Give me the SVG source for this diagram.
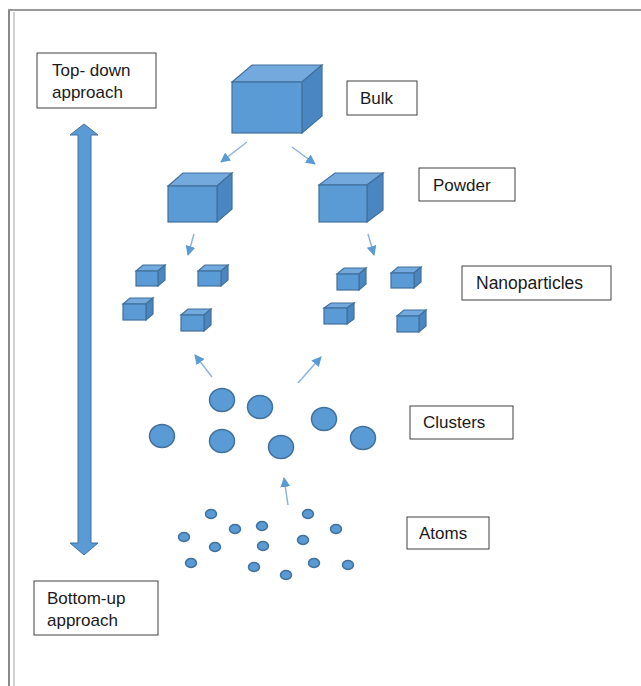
<svg xmlns="http://www.w3.org/2000/svg" width="641" height="686" viewBox="0 0 641 686">
<style>
.lbl{fill:#fff;stroke:#404040;stroke-width:1}
.t{font-family:"Liberation Sans",Arial,sans-serif;font-size:17px;fill:#1a1a1a}
.front{fill:#5b9bd5;stroke:#41719c;stroke-width:1.2}
.top{fill:#73a9dc;stroke:#41719c;stroke-width:1.2}
.side{fill:#4a87c2;stroke:#41719c;stroke-width:1.2}
.ball{fill:#5b9bd5;stroke:#41719c;stroke-width:1.5}
.ar{stroke:#8db3dd;stroke-width:1.5;fill:none;marker-end:url(#ah)}
</style>
<defs>
<marker id="ah" viewBox="0 0 10 10" refX="9" refY="5" markerWidth="10" markerHeight="10" markerUnits="userSpaceOnUse" orient="auto">
<path d="M0,0 L10,5 L0,10 z" fill="#5b9bd5"/>
</marker>
</defs>
<rect width="641" height="686" fill="#fff"/>
<g id="frame">
<line x1="8" y1="10" x2="641" y2="10" stroke="#9a9a9a" stroke-width="2"/>
<line x1="9" y1="10" x2="9" y2="686" stroke="#8a8a8a" stroke-width="2"/>
<line x1="14" y1="12" x2="14" y2="686" stroke="#d0d0d0" stroke-width="2"/>
</g>
<g id="double-arrow">
<polygon points="84,124 98,135 91,135 91,543 98,543 84,555 70,543 78,543 78,135 70,135" fill="#5b9bd5" stroke="#41719c" stroke-width="1"/>
</g>
<g id="top-down">
<rect class="lbl" x="37" y="53" width="119" height="55"/>
<text class="t" x="52" y="76">Top- down</text>
<text class="t" x="52" y="98">approach</text>
</g>
<g id="bottom-up">
<rect class="lbl" x="34" y="581" width="124" height="54"/>
<text class="t" x="47" y="604">Bottom-up</text>
<text class="t" x="47" y="626">approach</text>
</g>
<g id="bulk-label"><rect class="lbl" x="347" y="81" width="70" height="34"/><text class="t" x="360" y="104">Bulk</text></g>
<g id="powder-label"><rect class="lbl" x="419" y="168" width="96" height="33"/><text class="t" x="433" y="191">Powder</text></g>
<g id="nano-label"><rect class="lbl" x="462" y="266" width="149" height="34"/><text class="t" x="476" y="289" style="font-size:17.5px">Nanoparticles</text></g>
<g id="clusters-label"><rect class="lbl" x="410" y="406" width="103" height="33"/><text class="t" x="423" y="428">Clusters</text></g>
<g id="atoms-label"><rect class="lbl" x="407" y="517" width="82" height="32"/><text class="t" x="419" y="539">Atoms</text></g>
<g id="bulk">
<polygon class="top" points="232,82 252,65 322,65 302,82"/>
<polygon class="side" points="302,82 322,65 322,116 302,133"/>
<rect class="front" x="232" y="82" width="70" height="51"/>
</g>
<g id="powder">
<polygon class="top" points="168,186 183,173 232,173 217,186"/>
<polygon class="side" points="217,186 232,173 232,209 217,222"/>
<rect class="front" x="168" y="186" width="49" height="36"/>
<polygon class="top" points="319,185 335,173 383,173 367,185"/>
<polygon class="side" points="367,185 383,173 383,210 367,222"/>
<rect class="front" x="319" y="185" width="48" height="37"/>
</g>
<g id="nanoparticles">
<polygon class="top" points="136,271 143,265 165,265 158,271"/><polygon class="side" points="158,271 165,265 165,280 158,286"/><rect class="front" x="136" y="271" width="22" height="15"/>
<polygon class="top" points="198,271 205,265 228,265 221,271"/><polygon class="side" points="221,271 228,265 228,280 221,286"/><rect class="front" x="198" y="271" width="23" height="15"/>
<polygon class="top" points="123,304 130,298 153,298 146,304"/><polygon class="side" points="146,304 153,298 153,314 146,320"/><rect class="front" x="123" y="304" width="23" height="16"/>
<polygon class="top" points="181,315 188,309 211,309 204,315"/><polygon class="side" points="204,315 211,309 211,325 204,331"/><rect class="front" x="181" y="315" width="23" height="16"/>
<polygon class="top" points="337,274 344,268 366,268 359,274"/><polygon class="side" points="359,274 366,268 366,284 359,290"/><rect class="front" x="337" y="274" width="22" height="16"/>
<polygon class="top" points="391,273 398,267 421,267 414,273"/><polygon class="side" points="414,273 421,267 421,282 414,288"/><rect class="front" x="391" y="273" width="23" height="15"/>
<polygon class="top" points="324,308 331,303 354,303 347,308"/><polygon class="side" points="347,308 354,303 354,319 347,324"/><rect class="front" x="324" y="308" width="23" height="16"/>
<polygon class="top" points="397,316 404,310 426,310 419,316"/><polygon class="side" points="419,316 426,310 426,326 419,332"/><rect class="front" x="397" y="316" width="22" height="16"/>
</g>
<g id="clusters">
<ellipse class="ball" cx="162" cy="436" rx="12.5" ry="11.5"/>
<ellipse class="ball" cx="222" cy="400" rx="12.5" ry="11.5"/>
<ellipse class="ball" cx="260" cy="407" rx="12.5" ry="11.5"/>
<ellipse class="ball" cx="222" cy="441" rx="12.5" ry="11.5"/>
<ellipse class="ball" cx="281" cy="447" rx="12.5" ry="11.5"/>
<ellipse class="ball" cx="324" cy="419" rx="12.5" ry="11.5"/>
<ellipse class="ball" cx="363" cy="438" rx="12.5" ry="11.5"/>
</g>
<g id="atoms">
<ellipse class="ball" cx="211" cy="514" rx="5.5" ry="4.5"/>
<ellipse class="ball" cx="235" cy="529" rx="5.5" ry="4.5"/>
<ellipse class="ball" cx="262" cy="526" rx="5.5" ry="4.5"/>
<ellipse class="ball" cx="308" cy="514" rx="5.5" ry="4.5"/>
<ellipse class="ball" cx="336" cy="529" rx="5.5" ry="4.5"/>
<ellipse class="ball" cx="184" cy="537" rx="5.5" ry="4.5"/>
<ellipse class="ball" cx="215" cy="547" rx="5.5" ry="4.5"/>
<ellipse class="ball" cx="263" cy="546" rx="5.5" ry="4.5"/>
<ellipse class="ball" cx="303" cy="540" rx="5.5" ry="4.5"/>
<ellipse class="ball" cx="191" cy="563" rx="5.5" ry="4.5"/>
<ellipse class="ball" cx="254" cy="567" rx="5.5" ry="4.5"/>
<ellipse class="ball" cx="286" cy="575" rx="5.5" ry="4.5"/>
<ellipse class="ball" cx="314" cy="563" rx="5.5" ry="4.5"/>
<ellipse class="ball" cx="348" cy="565" rx="5.5" ry="4.5"/>
</g>
<g id="connectors">
<line class="ar" x1="247" y1="142" x2="221" y2="162"/>
<line class="ar" x1="292" y1="147" x2="315" y2="164"/>
<line class="ar" x1="194" y1="234" x2="188" y2="255"/>
<line class="ar" x1="368" y1="234" x2="374" y2="255"/>
<line class="ar" x1="212" y1="377" x2="195" y2="355"/>
<line class="ar" x1="298" y1="383" x2="321" y2="357"/>
<line class="ar" x1="288" y1="505" x2="284" y2="478"/>
</g>
</svg>
